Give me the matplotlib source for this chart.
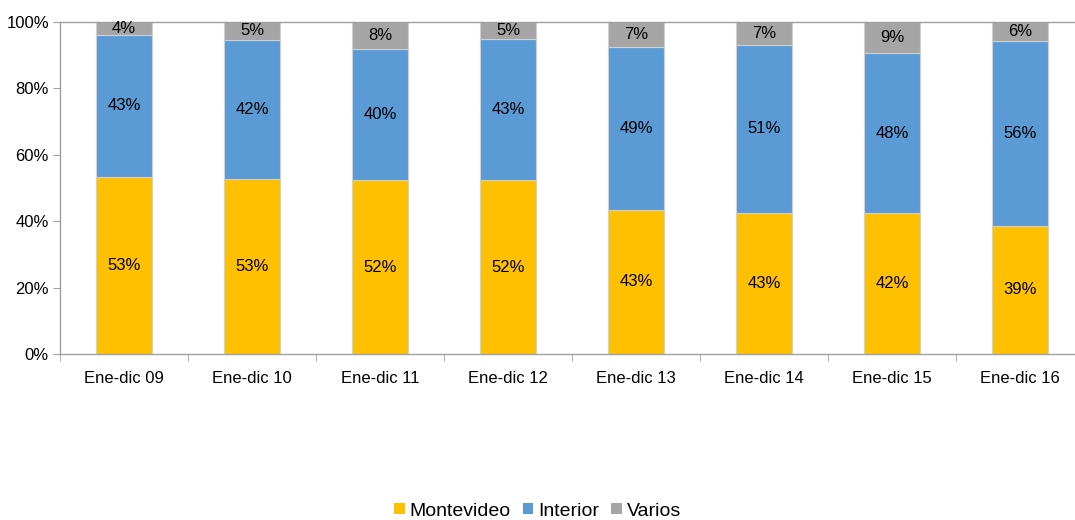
import numpy as np
import matplotlib
matplotlib.use("Agg")
from matplotlib import pyplot as plt
from matplotlib.patches import Patch

plt.rcParams['font.family'] = ['Liberation Sans', 'DejaVu Sans']

# data (percent of total)
periodos = ['Ene-dic 09', 'Ene-dic 10', 'Ene-dic 11', 'Ene-dic 12',
            'Ene-dic 13', 'Ene-dic 14', 'Ene-dic 15', 'Ene-dic 16']
montevideo = [53.4, 52.6, 52.3, 52.4, 43.4, 42.6, 42.4, 38.6]
interior = [42.6, 42.0, 39.7, 42.6, 49.2, 50.6, 48.2, 55.6]
varios = [4.0, 5.4, 8.0, 5.0, 7.4, 6.8, 9.4, 5.8]

series = [('Montevideo', montevideo, '#FFC000'),
          ('Interior', interior, '#5B9BD5'),
          ('Varios', varios, '#A5A5A5')]

fig = plt.figure(figsize=(10.75, 5.2), dpi=100)
ax = fig.add_axes([60 / 1075, 1 - 354 / 520, 1024 / 1075, 332 / 520])

x = np.arange(len(periodos))
bottom = np.zeros(len(periodos))
for name, vals, color in series:
    vals = np.array(vals)
    ax.bar(x, vals, 0.43, bottom=bottom, color=color, edgecolor='#D0D0D0',
           linewidth=0.8, label=name, zorder=2)
    for xi, b, v in zip(x, bottom, vals):
        ax.text(xi, b + v / 2, '%.0f%%' % v, ha='center', va='center',
                fontsize=12, color='black', zorder=3)
    bottom += vals

ax.set_xlim(-0.5, len(periodos) - 0.5)
ax.set_ylim(0, 100)
ax.set_yticks(np.arange(0, 101, 20))
ax.set_yticklabels(['%d%%' % v for v in range(0, 101, 20)], fontsize=12)
ax.set_xticks(x)
ax.set_xticklabels(periodos, fontsize=12)
ax.set_xticks(np.arange(-0.5, len(periodos)), minor=True)
ax.tick_params(axis='x', which='major', length=0, pad=12)
ax.tick_params(axis='x', which='minor', length=5, color='#A0A0A0')
ax.tick_params(axis='y', length=5, color='#A0A0A0', pad=3)

for s in ['right']:
    ax.spines[s].set_visible(False)
for s in ['left', 'bottom', 'top']:
    ax.spines[s].set_color('#A0A0A0')
    ax.spines[s].set_linewidth(1)

handles = [Patch(facecolor=c, label=n) for n, _, c in series]
fig.legend(handles=handles, loc='center', bbox_to_anchor=(0.5, 1 - 511 / 520),
           ncol=3, frameon=False, fontsize=14, handlelength=0.55,
           handleheight=0.55, handletextpad=0.25, columnspacing=0.6)

fig.savefig('out.png', dpi=100)
